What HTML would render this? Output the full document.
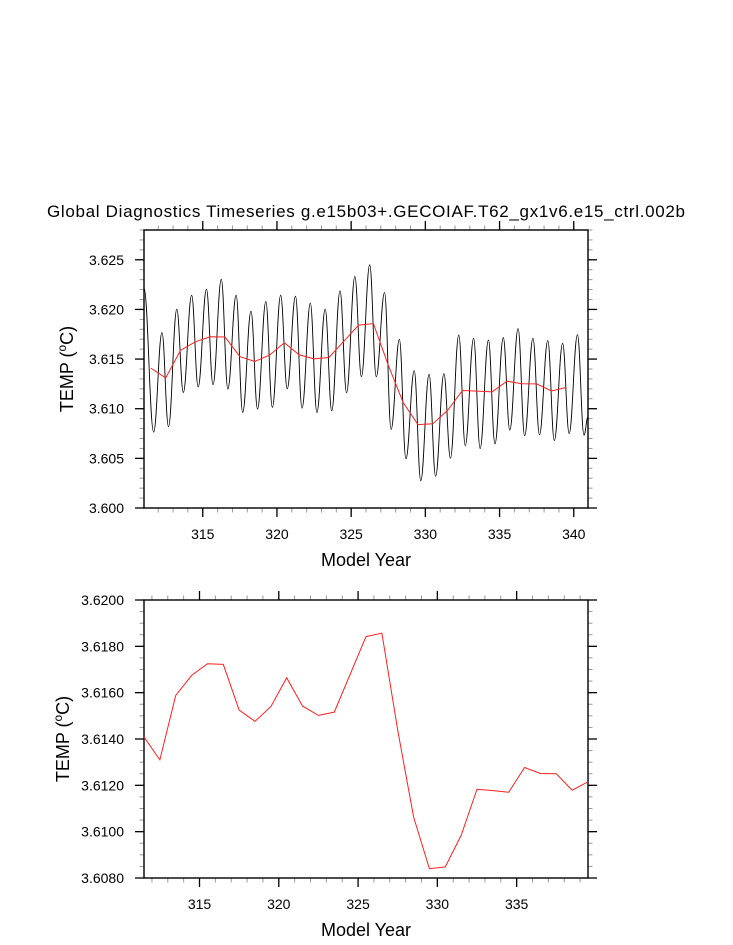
<!DOCTYPE html>
<html><head><meta charset="utf-8"><style>
html,body{margin:0;padding:0;background:#fff;}
svg{display:block;font-family:"Liberation Sans",sans-serif;}
</style></head><body>
<svg id="c" width="733" height="945" viewBox="0 0 733 945" xmlns="http://www.w3.org/2000/svg">
<text x="366" y="217" font-size="17" text-anchor="middle" textLength="638">Global Diagnostics Timeseries g.e15b03+.GECOIAF.T62_gx1v6.e15_ctrl.002b</text>
<g id="top"></g>
<g id="bot"></g>
</svg>
<script>
// annual-mean years and values (shared by both panels)
const annualYears = [311.5,312.5,313.5,314.5,315.5,316.5,317.5,318.5,319.5,320.5,321.5,322.5,323.5,324.5,325.5,326.5,327.5,328.5,329.5,330.5,331.5,332.5,333.5,334.5,335.5,336.5,337.5,338.5,339.5];
const annualValues = [3.61409,3.61310,3.61588,3.61674,3.61725,3.61722,3.61525,3.61476,3.61540,3.61664,3.61542,3.61502,3.61516,3.61679,3.61842,3.61857,3.61438,3.61064,3.60840,3.60848,3.60984,3.61183,3.61177,3.61170,3.61277,3.61251,3.61250,3.61179,3.61215];
// monthly series extrema: peaks (years 312..340) and troughs (years 311..340)
const startValue = 3.62214;
const endValue = 3.60919;
const peakYears = [312,313,314,315,316,317,318,319,320,321,322,323,324,325,326,327,328,329,330,331,332,333,334,335,336,337,338,339,340];
const peakValues = [3.61767,3.62002,3.62143,3.62204,3.62305,3.62143,3.61982,3.62079,3.62143,3.62133,3.62063,3.62002,3.62187,3.62332,3.62450,3.62170,3.61699,3.61383,3.61346,3.61353,3.61743,3.61709,3.61692,3.61716,3.61807,3.61709,3.61686,3.61659,3.61746];
const troughYears = [311,312,313,314,315,316,317,318,319,320,321,322,323,324,325,326,327,328,329,330,331,332,333,334,335,336,337,338,339,340];
const troughValues = [3.60764,3.60818,3.61164,3.61218,3.61242,3.61198,3.60962,3.60996,3.61013,3.61201,3.61006,3.60962,3.60979,3.61161,3.61322,3.61322,3.60791,3.60495,3.60273,3.60320,3.60501,3.60629,3.60599,3.60646,3.60784,3.60727,3.60737,3.60680,3.60750,3.60734];
const topXTicks = [315,320,325,330,335,340];
const topYTicks = [3.600,3.605,3.610,3.615,3.620,3.625];
const botXTicks = [315,320,325,330,335];
const botYTicks = [3.608,3.610,3.612,3.614,3.616,3.618,3.620];

const NS='http://www.w3.org/2000/svg';
function mk(parent,tag,attrs){const e=document.createElementNS(NS,tag);for(const k in attrs)e.setAttribute(k,attrs[k]);parent.appendChild(e);return e;}

function panel(g,o){
  const X=v=>o.x0+(v-o.xmin)/(o.xmax-o.xmin)*(o.x1-o.x0);
  const Y=v=>o.y1-(v-o.ymin)/(o.ymax-o.ymin)*(o.y1-o.y0);
  for(let v=Math.ceil(o.xmin);v<=o.xmax+1e-9;v+=1){
    const x=X(v);
    const t1=mk(g,'line',{x1:x,x2:x,y1:o.y1,y2:o.y1+4.5,stroke:'#999','stroke-width':1});
    
    
    const t2=mk(g,'line',{x1:x,x2:x,y1:o.y0,y2:o.y0-4.5,stroke:'#999','stroke-width':1});
    
    
  }
  const nm=Math.round((o.ymax-o.ymin)/o.ym);
  for(let i=0;i<=nm;i++){
    const y=Y(o.ymin+i*o.ym);
    const t1=mk(g,'line',{x1:o.x0-4.5,x2:o.x0,y1:y,y2:y,stroke:'#999','stroke-width':1});
    
    
    const t2=mk(g,'line',{x1:o.x1,x2:o.x1+4.5,y1:y,y2:y,stroke:'#999','stroke-width':1});
    
    
  }
  o.xt.forEach(v=>{
    const x=X(v);
    const a=mk(g,'line',{x1:x,x2:x,y1:o.y1,y2:o.y1+9,stroke:'#000','stroke-width':1.3});
    
    
    const b=mk(g,'line',{x1:x,x2:x,y1:o.y0,y2:o.y0-9,stroke:'#000','stroke-width':1.3});
    
    
    const t=mk(g,'text',{x:x,y:o.y1+31,'font-size':14,'text-anchor':'middle'});
    t.textContent=String(v);
    
    
  });
  o.yt.forEach(v=>{
    const y=Y(v);
    const a=mk(g,'line',{x1:o.x0-9,x2:o.x0,y1:y,y2:y,stroke:'#000','stroke-width':1.3});
    
    
    const b=mk(g,'line',{x1:o.x1,x2:o.x1+9,y1:y,y2:y,stroke:'#000','stroke-width':1.3});
    
    
    const t=mk(g,'text',{x:124,y:y+5,'font-size':14,'text-anchor':'end'});
    t.textContent=v.toFixed(o.dec);
    
    
  });
  const fr=mk(g,'rect',{x:o.x0,y:o.y0,width:o.x1-o.x0,height:o.y1-o.y0,fill:'none',stroke:'#000','stroke-width':1.4});
  
  
  const xl=mk(g,'text',{x:(o.x0+o.x1)/2,y:o.y1+58,'font-size':18,'text-anchor':'middle'});
  xl.textContent='Model Year';
  
  
  const cy=(o.y0+o.y1)/2;
  const yl=mk(g,'text',{x:0,y:0,'font-size':18,'text-anchor':'middle',transform:`translate(${o.ytx},${cy}) rotate(-90)`});
  yl.innerHTML='TEMP (<tspan font-size="12" dy="-7">o</tspan><tspan dy="7">C)</tspan>';
  
  
  return {X,Y};
}

// TOP
const gt=document.getElementById('top');
const T=panel(gt,{x0:144,x1:588,y0:230,y1:508,xmin:311.04,xmax:340.96,ymin:3.600,ymax:3.628,ym:0.001,xt:topXTicks,yt:topYTicks,dec:3,ytx:73});
const pts=[[311.04,startValue]];
for(let i=0;i<troughYears.length;i++){
  pts.push([troughYears[i]+0.69,troughValues[i]]);
  const pi=peakYears.indexOf(troughYears[i]+1);
  if(pi>=0)pts.push([peakYears[pi]+0.25,peakValues[pi]]);
}
pts.push([340.96,endValue]);
let d=`M${T.X(pts[0][0]).toFixed(2)},${T.Y(pts[0][1]).toFixed(2)}`;
for(let i=1;i<pts.length;i++){
  const xa=T.X(pts[i-1][0]),ya=T.Y(pts[i-1][1]),xb=T.X(pts[i][0]),yb=T.Y(pts[i][1]);
  const dx=(xb-xa)*0.4;
  d+=` C${(xa+dx).toFixed(2)},${ya.toFixed(2)} ${(xb-dx).toFixed(2)},${yb.toFixed(2)} ${xb.toFixed(2)},${yb.toFixed(2)}`;
}
const cp=document.createElementNS(NS,'clipPath');cp.setAttribute('id','clipTop');
mk(cp,'rect',{x:144,y:230,width:444,height:278});gt.appendChild(cp);
const ml=mk(gt,'path',{d:d,fill:'none',stroke:'#000','stroke-width':0.9,'clip-path':'url(#clipTop)'});


const al=mk(gt,'polyline',{points:annualYears.map((y,i)=>T.X(y).toFixed(2)+','+T.Y(annualValues[i]).toFixed(2)).join(' '),fill:'none',stroke:'#ff2020','stroke-width':1});



// BOTTOM
const gb=document.getElementById('bot');
const B=panel(gb,{x0:144,x1:588,y0:600,y1:878,xmin:311.5,xmax:339.5,ymin:3.608,ymax:3.620,ym:0.0005,xt:botXTicks,yt:botYTicks,dec:4,ytx:69});
const bl=mk(gb,'polyline',{points:annualYears.map((y,i)=>B.X(y).toFixed(2)+','+B.Y(annualValues[i]).toFixed(2)).join(' '),fill:'none',stroke:'#ff2020','stroke-width':1});


</script>
</body></html>
